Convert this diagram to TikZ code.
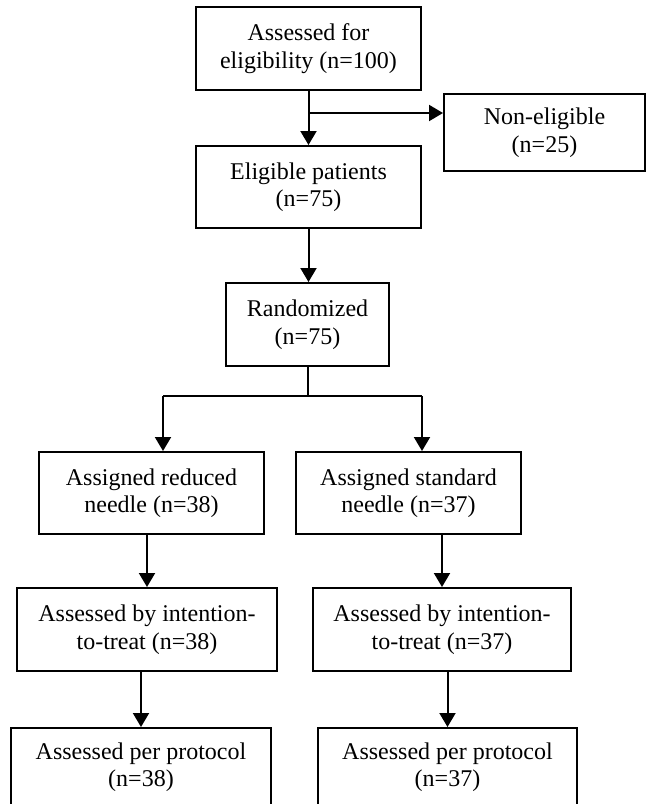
\documentclass[tikz,border=0pt]{standalone}
\usepackage{fontspec}
\setmainfont{Liberation Serif}
\usetikzlibrary{arrows.meta}
\begin{document}
\begin{tikzpicture}[x=1pt,y=-1pt,
  box/.style={draw, line width=2pt, align=center, inner sep=0pt, font=\fontsize{24}{27.5}\selectfont},
  arr/.style={line width=2pt, -{Triangle[width=16pt,length=14pt]}},
  ln/.style={line width=2pt}]
\useasboundingbox (0,0) rectangle (646,804);
\clip (0,0) rectangle (646,804);
\node[box, minimum width=225pt, minimum height=83pt] (b1) at (308.5,48.5) {Assessed for\\eligibility (n=100)};
\node[box, minimum width=201pt, minimum height=77pt] (non) at (544.5,132.5) {Non-eligible\\(n=25)};
\node[box, minimum width=225pt, minimum height=82pt] (b2) at (308.5,187) {Eligible patients\\(n=75)};
\node[box, minimum width=163pt, minimum height=83pt] (rand) at (307.5,324.5) {Randomized\\(n=75)};
\node[box, minimum width=225pt, minimum height=82pt] (asgL) at (151.5,493) {Assigned reduced\\needle (n=38)};
\node[box, minimum width=225pt, minimum height=82pt] (asgR) at (408.5,493) {Assigned standard\\needle (n=37)};
\node[box, minimum width=260pt, minimum height=83pt] (ittL) at (147,629.5) {Assessed by intention-\\to-treat (n=38)};
\node[box, minimum width=258pt, minimum height=83pt] (ittR) at (442,629.5) {Assessed by intention-\\to-treat (n=37)};
\node[box, minimum width=260pt, minimum height=78pt] (ppL) at (141,767) {Assessed per protocol\\(n=38)};
\node[box, minimum width=259pt, minimum height=78pt] (ppR) at (447.5,767) {Assessed per protocol\\(n=37)};
\coordinate (j1) at (308.5,113);
\coordinate (j2) at (307.5,396);
\coordinate (jl) at (163,396);
\coordinate (jr) at (422,396);
\draw[arr] (b1.south) -- (b2.north);
\draw[arr] (j1) -- (j1 -| non.west);
\draw[arr] (b2.south) -- (b2.south |- rand.north);
\draw[ln] (rand.south) -- (j2);
\draw[ln] (jl) -- (jr);
\draw[arr] (jl) -- (jl |- asgL.north);
\draw[arr] (jr) -- (jr |- asgR.north);
\draw[arr] (ittL.north |- asgL.south) -- (ittL.north);
\draw[arr] (ittR.north |- asgR.south) -- (ittR.north);
\draw[arr] (ppL.north |- ittL.south) -- (ppL.north);
\draw[arr] (ppR.north |- ittR.south) -- (ppR.north);
\end{tikzpicture}
\end{document}
